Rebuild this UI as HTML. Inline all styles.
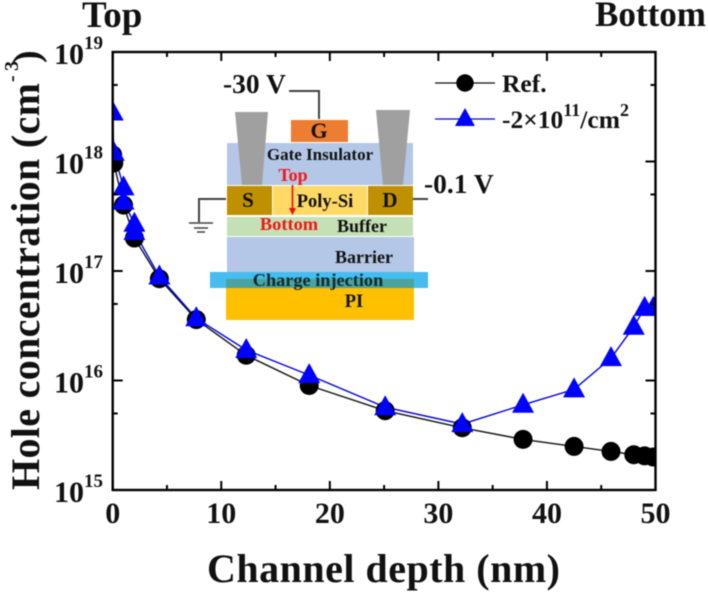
<!DOCTYPE html>
<html>
<head>
<meta charset="utf-8">
<style>
html,body{margin:0;padding:0;background:#fff;width:708px;height:594px;overflow:hidden}
svg{display:block;font-family:"Liberation Serif",serif;font-weight:bold;filter:blur(0.4px)}
</style>
</head>
<body>
<svg id="chart" width="708" height="594" viewBox="0 0 708 594" xmlns="http://www.w3.org/2000/svg">
<defs><clipPath id="plot-clip"><rect x="112" y="52" width="544" height="438"/></clipPath></defs>
<rect width="708" height="594" fill="#fff"/>
<g id="series-layer" clip-path="url(#plot-clip)"></g>
<g id="axis-layer"></g>

<text x="82" y="27" font-size="37" fill="#111">Top</text>
<text x="595" y="26" font-size="36" textLength="111" lengthAdjust="spacingAndGlyphs" fill="#111">Bottom</text>
<text x="207" y="582" font-size="40" textLength="353" fill="#111">Channel depth (nm)</text>
<g fill="#111">
<text transform="translate(39,490) rotate(-90)" font-size="40" textLength="407">Hole concentration (cm</text>
<text transform="translate(18,82) rotate(-90)" font-size="20" textLength="21">-3</text>
<text transform="translate(39,63) rotate(-90)" font-size="38">)</text>
</g>

<g id="inset">
<rect x="227" y="143" width="186" height="42" fill="#b4c7e7"/>
<rect x="227" y="237" width="187" height="36" fill="#b4c7e7"/>
<polygon points="235,112 268,112 262,185 242,185" fill="#a0a0a0"/>
<polygon points="376,110 410,110 403,185 383,185" fill="#a0a0a0"/>
<rect x="291" y="120" width="57" height="22" fill="#ed7d31"/>
<polyline points="289,91 319,91 319,119" fill="none" stroke="#404040" stroke-width="2"/>
<rect x="273" y="186" width="94" height="29" fill="#ffd966"/>
<rect x="227" y="186" width="45" height="29" fill="#bf9000"/>
<rect x="368" y="186" width="45" height="29" fill="#bf9000"/>
<rect x="227" y="217" width="186" height="19" fill="#c5e0b4"/>
<rect x="226" y="288" width="188" height="32" fill="#ffc000"/>
<rect x="210" y="272" width="218" height="16" fill="#45bdee"/>
<rect x="226" y="279" width="188" height="9" fill="#4ba3a0"/>
<polyline points="226,199 199,199 199,222" fill="none" stroke="#404040" stroke-width="2"/>
<path d="M189 223H213M194 228H208M197 232H205" stroke="#404040" stroke-width="1.6" fill="none"/>
<line x1="413" y1="199" x2="428" y2="199" stroke="#404040" stroke-width="2"/>
<line x1="292.5" y1="185" x2="292.5" y2="210" stroke="#e01010" stroke-width="1.6"/>
<polygon points="289,208 296,208 292.5,215" fill="#e01010"/>
<text x="223" y="93" font-size="27.5" fill="#111">-30 V</text>
<text x="424" y="193" font-size="27.5" fill="#111">-0.1 V</text>
<g font-size="18" fill="#111" text-anchor="middle">
<text x="319" y="138" font-size="22">G</text>
<text x="320" y="160" font-size="17">Gate Insulator</text>
<text x="248" y="207" font-size="21">S</text>
<text x="390" y="207" font-size="21">D</text>
<text x="325" y="207" font-size="18.5">Poly-Si</text>
<text x="362" y="232">Buffer</text>
<text x="364" y="263">Barrier</text>
<text x="318" y="286" font-size="18.3" fill="#0f2a30">Charge injection</text>
<text x="354" y="307" font-size="18.5">PI</text>
<text x="293" y="181" fill="#f01818">Top</text>
<text x="289" y="230" font-size="18.4" fill="#f01818">Bottom</text>
</g>
</g>

<g id="legend">
<g>
<line x1="435" y1="83" x2="495" y2="83" stroke="#111" stroke-width="1.3"/>
<circle cx="465" cy="83" r="8.7" fill="#000"/>
<text x="502" y="92" font-size="25.5" fill="#111">Ref.</text>
</g>
<g>
<line x1="435" y1="119" x2="495" y2="119" stroke="#0000f0" stroke-width="1.3"/>
<polygon points="465,108 475,126 455,126" fill="#0000ff"/>
<text x="502" y="128" font-size="25.5" fill="#111">-2×10<tspan font-size="18" dy="-12">11</tspan><tspan dy="12">/cm</tspan><tspan font-size="18" dy="-12">2</tspan></text>
</g>
</g>

<script>
// Chart data
var depthNm = [0, 0.1, 1.0, 2.0, 4.3, 7.7, 12.3, 18.1, 25.1, 32.2, 37.8, 42.5, 45.9, 48, 49, 49.8];
var refConcentration = [1.15e18, 9.7e17, 4e17, 2e17, 8.5e16, 3.6e16, 1.7e16, 9e15, 5.3e15, 3.7e15, 2.9e15, 2.5e15, 2.25e15, 2.1e15, 2.05e15, 2e15];
var chargeDepthNm = [0, 0.1, 1.0, 1.0, 2.0, 2.0, 4.3, 7.7, 12.3, 18.1, 25.1, 32.2, 37.8, 42.5, 45.9, 48, 49, 49.8];
var chargeConcentration = [2.8e18, 1.2e18, 5.8e17, 4.3e17, 2.7e17, 2.27e17, 8.9e16, 3.7e16, 1.9e16, 1.12e16, 5.7e15, 4e15, 6e15, 8.3e15, 1.6e16, 3.1e16, 4.6e16, 4.6e16];
var xMajorTicks = [0, 10, 20, 30, 40, 50];
var xMinorTicks = [5, 15, 25, 35, 45];
var yMajorExponents = [15, 16, 17, 18, 19];
var yMinorTickValues = [5e15, 5e16, 5e17, 5e18];

var NS = 'http://www.w3.org/2000/svg';
var PLOT = {left: 112.7, right: 655.5, top: 52, bottom: 490};
function xScale(v) { return PLOT.left + (v / 50) * (PLOT.right - PLOT.left); }
function yScale(v) { return PLOT.bottom - (Math.log10(v) - 15) / 4 * (PLOT.bottom - PLOT.top); }
function make(tag, parent) {
  var el = document.createElementNS(NS, tag);
  parent.appendChild(el);
  return el;
}
var axisLayer = document.getElementById('axis-layer');
var seriesLayer = document.getElementById('series-layer');

var frame = make('rect', axisLayer);


frame.setAttribute('x', PLOT.left);
frame.setAttribute('y', PLOT.top);
frame.setAttribute('width', PLOT.right - PLOT.left);
frame.setAttribute('height', PLOT.bottom - PLOT.top);
frame.setAttribute('fill', 'none');
frame.setAttribute('stroke', '#000');
frame.setAttribute('stroke-width', '2.4');

function tick(x1, y1, x2, y2, width) {
  var t = make('line', axisLayer);
  
  
  t.setAttribute('x1', x1);
  t.setAttribute('y1', y1);
  t.setAttribute('x2', x2);
  t.setAttribute('y2', y2);
  t.setAttribute('stroke', '#000');
  t.setAttribute('stroke-width', width);
}
xMajorTicks.forEach(function (v) {
  var x = xScale(v);
  tick(x, PLOT.bottom, x, PLOT.bottom - 9, 2);
  tick(x, PLOT.top, x, PLOT.top + 9, 2);
  var label = make('text', axisLayer);
  
  
  label.setAttribute('x', x);
  label.setAttribute('y', 523);
  label.setAttribute('font-size', '30');
  label.setAttribute('fill', '#111');
  label.setAttribute('text-anchor', 'middle');
  label.textContent = String(v);
});
xMinorTicks.forEach(function (v) {
  var x = xScale(v);
  tick(x, PLOT.bottom, x, PLOT.bottom - 5, 2);
  tick(x, PLOT.top, x, PLOT.top + 5, 2);
});
yMajorExponents.forEach(function (e) {
  var y = yScale(Math.pow(10, e));
  tick(PLOT.left, y, PLOT.left + 10, y, 2);
  tick(PLOT.right, y, PLOT.right - 10, y, 2);
  var label = make('text', axisLayer);
  
  
  label.setAttribute('x', 54);
  label.setAttribute('y', y + 12);
  label.setAttribute('font-size', '30');
  label.setAttribute('fill', '#111');
  label.textContent = '10';
  var exponent = make('tspan', label);
  exponent.setAttribute('font-size', '19');
  exponent.setAttribute('dy', '-15');
  exponent.textContent = String(e);
});
yMinorTickValues.forEach(function (v) {
  var y = yScale(v);
  tick(PLOT.left, y, PLOT.left + 5, y, 2);
  tick(PLOT.right, y, PLOT.right - 5, y, 2);
});

function drawLine(name, xs, ys, color) {
  var line = make('polyline', seriesLayer);
  
  
  line.setAttribute('points', xs.map(function (v, i) {
    return xScale(v).toFixed(1) + ',' + yScale(ys[i]).toFixed(1);
  }).join(' '));
  line.setAttribute('fill', 'none');
  line.setAttribute('stroke', color);
  line.setAttribute('stroke-width', '1.4');
}
drawLine('ref-line', depthNm, refConcentration, '#111');
drawLine('charge-line', chargeDepthNm, chargeConcentration, '#0000e0');

depthNm.forEach(function (v, i) {
  var c = make('circle', seriesLayer);
  
  
  c.setAttribute('cx', xScale(v));
  c.setAttribute('cy', yScale(refConcentration[i]));
  c.setAttribute('r', '9.5');
  c.setAttribute('fill', '#000');
});
chargeDepthNm.forEach(function (v, i) {
  var x = xScale(v);
  var y = yScale(chargeConcentration[i]);
  var t = make('polygon', seriesLayer);
  
  
  t.setAttribute('points', x + ',' + (y - 12) + ' ' + (x + 11) + ',' + (y + 8) + ' ' + (x - 11) + ',' + (y + 8));
  t.setAttribute('fill', '#0000ff');
});
</script>
</svg>
</body>
</html>
